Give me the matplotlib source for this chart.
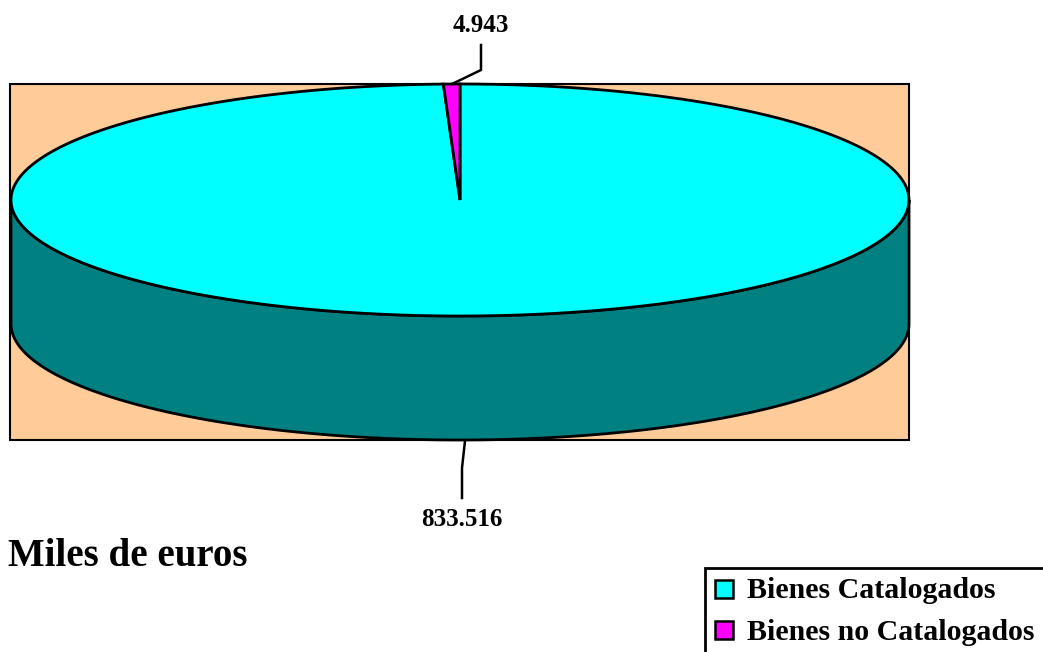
import numpy as np
import matplotlib.pyplot as plt
from matplotlib.patches import Polygon, Rectangle

categories = ["Bienes Catalogados", "Bienes no Catalogados"]
values = [833516, 4943]
value_labels = ["833.516", "4.943"]
colors_top = ["#00FFFF", "#FF00FF"]
side_colors = ["#008080", "#800080"]

plt.rcParams['font.family'] = ['Liberation Serif', 'DejaVu Serif']

fig = plt.figure(figsize=(10.43, 6.52), dpi=100)
ax = fig.add_axes([0, 0, 1, 1])
ax.set_xlim(0, 1043)
ax.set_ylim(652, 0)
ax.axis('off')

# plot area
ax.add_patch(Rectangle((10, 84), 899, 356, facecolor="#FFCC99", edgecolor="black", lw=1.5, zorder=1))

cx, cy, a, b, depth = 460, 200, 449, 116, 124

def pt(t, dy=0):
    t = np.radians(t)
    return np.column_stack([cx + a * np.cos(t), cy - b * np.sin(t) + dy])

# wedge angles: start at top (90 deg), go counter-clockwise with the small slice first
total = sum(values)
spans = [v / total * 360 for v in values]
starts = {1: 90.0, 0: 90.0 + spans[1]}

# side of the cake (front half only, all cyan slice)
t = np.linspace(180, 360, 200)
side = np.vstack([pt(t), pt(t[::-1], depth)])
ax.add_patch(Polygon(side, closed=True, facecolor=side_colors[0], edgecolor="black", lw=2, zorder=2))

# top wedges
for i in [0, 1]:
    t = np.linspace(starts[i], starts[i] + spans[i], 400)
    poly = np.vstack([[cx, cy], pt(t)])
    ax.add_patch(Polygon(poly, closed=True, facecolor=colors_top[i], edgecolor="black", lw=2, zorder=3))

# labels with leader lines
ax.plot([452, 481, 481], [84, 70, 45], color="black", lw=1.8, zorder=4)
ax.text(481, 25, value_labels[1], ha="center", va="center", fontsize=18, fontweight="bold")
ax.plot([465, 462, 462], [441, 468, 498], color="black", lw=1.8, zorder=4)
ax.text(462, 519, value_labels[0], ha="center", va="center", fontsize=18, fontweight="bold")

ax.text(8, 556, "Miles de euros", ha="left", va="center", fontsize=28, fontweight="bold")

# legend
ax.add_patch(Rectangle((705, 568), 400, 120, facecolor="white", edgecolor="black", lw=2, zorder=1))
for i, (cat, y) in enumerate(zip(categories, [589, 630])):
    ax.add_patch(Rectangle((715, y - 9), 18, 18, facecolor=colors_top[i], edgecolor="black", lw=1.8, zorder=3))
    ax.text(747, y + 2, cat, ha="left", va="center", fontsize=21.5, fontweight="bold")

fig.savefig("out.png", dpi=100)
